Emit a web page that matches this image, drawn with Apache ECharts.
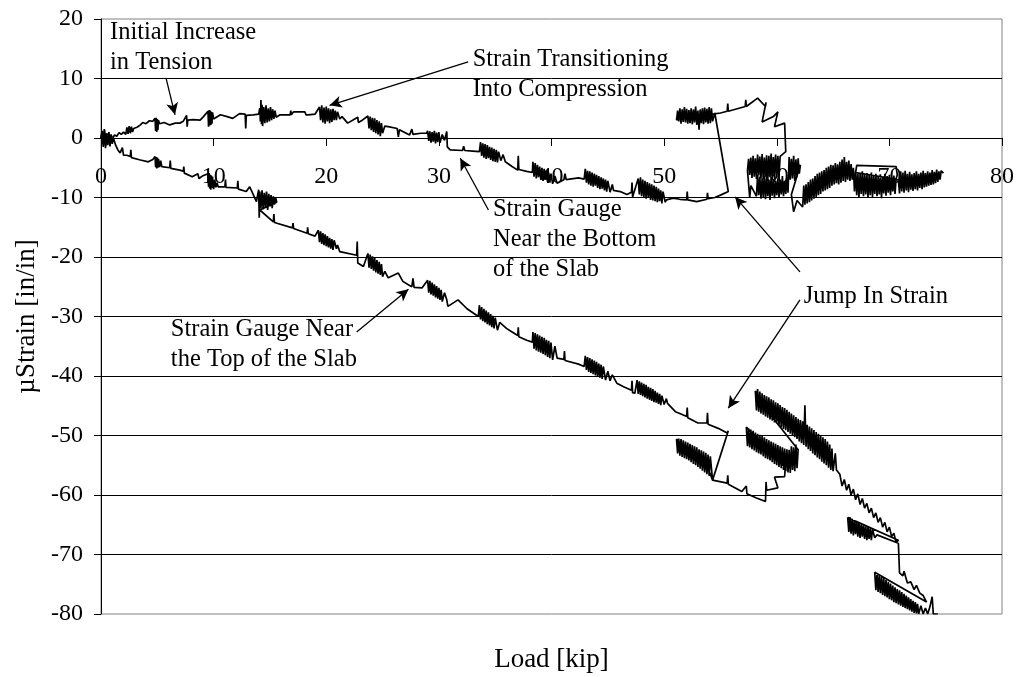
<!DOCTYPE html>
<html>
<head>
<meta charset="utf-8">
<script src="https://cdn.jsdelivr.net/npm/echarts@6/dist/echarts.min.js"></script>
<style>
html,body{margin:0;padding:0;background:#fff;}
#c{width:1018px;height:677px;}
</style>
</head>
<body>
<div id="c"></div>
<script>
// ---------- DATA ----------
const xTicks = [0, 10, 20, 30, 40, 50, 60, 70, 80];
const yTicks = [-80, -70, -60, -50, -40, -30, -20, -10, 0, 10, 20];

// Strain gauge near the bottom of the slab  [load kip, microstrain]
const bottomGauge = [
[0,0],[0.1,1.2],[0.2,-1.0],[0.3,1.5],[0.4,-1.3],[0.5,0.8],[0.6,-0.9],[0.7,1.0],[0.8,-0.5],[0.9,0.6],[1.0,-0.2],[1.2,0.5],[1.4,0.3],[1.6,0.9],[1.8,0.6],[2.0,1.0],
[2.2,0.6],[2.3,1.8],[2.4,0.7],[2.5,2.0],[2.6,0.8],[2.7,1.9],[2.8,1.0],[2.9,1.6],
[3.2,1.8],[3.5,2.2],[3.7,2.6],[4.0,2.4],[4.3,2.9],[4.6,2.8],
[4.8,3.3],[4.85,1.2],[4.9,3.4],[4.95,1.0],[5.0,3.2],[5.05,1.3],[5.1,3.0],[5.2,2.4],
[5.6,2.6],[6.1,2.2],[6.6,2.5],[7.0,2.5],[7.3,2.8],[7.6,3.8],[7.65,1.9],[7.7,3.0],[8.2,3.1],[8.8,3.0],[9.1,3.6],
[9.5,4.5],[9.55,1.9],[9.6,4.7],[9.65,2.1],[9.7,4.6],[9.75,2.2],[9.8,4.4],[9.85,2.4],[9.9,4.3],[10.0,3.2],
[10.6,3.9],[11.2,3.6],[11.7,3.3],[12.3,4.1],[12.8,4.0],[12.85,1.6],[12.9,3.8],[13.5,3.9],[14.0,4.0],
[14.1,5.0],[14.15,2.8],[14.2,6.4],[14.25,2.3],[14.3,5.6],[14.35,2.0],[14.45,5.2],[14.55,2.5],[14.65,5.5],[14.75,2.6],[14.85,5.0],[14.95,2.8],[15.05,5.2],[15.15,3.0],[15.25,4.8],[15.35,3.2],[15.45,4.6],[15.55,3.5],
[15.9,3.9],[16.8,3.9],[16.85,4.6],[16.9,3.9],[17.1,4.4],[18.1,4.4],[18.2,3.9],[18.4,3.9],[19.0,4.0],
[19.4,5.2],[19.5,3.0],[19.6,5.5],[19.7,2.6],[19.8,5.1],[19.9,2.4],[20.0,5.3],[20.1,2.8],[20.2,5.0],[20.3,2.5],[20.4,4.8],[20.5,2.7],[20.6,4.9],[20.7,3.0],[20.8,4.6],[20.9,3.0],[21.0,4.4],[21.2,3.2],[21.4,3.6],
[21.9,2.5],[22.8,3.5],[22.85,2.6],[23.2,3.0],
[23.7,3.7],[23.8,1.6],[23.9,3.6],[24.0,1.3],[24.1,3.4],[24.2,1.0],[24.3,3.3],[24.4,0.8],[24.5,3.0],[24.6,0.6],[24.7,2.8],[24.8,0.3],[24.9,2.5],[25.0,0.8],[25.2,2.0],
[25.5,1.9],[26.3,1.6],[26.4,0.2],[26.5,1.4],[27.4,0.5],[27.6,1.5],[27.7,0.6],[28.4,0.8],[28.9,0.8],
[29.0,1.2],[29.1,-0.5],[29.2,1.1],[29.3,-0.8],[29.4,1.0],[29.5,-0.6],[29.6,1.2],[29.7,-0.9],[29.8,0.9],[29.9,-0.7],[30.0,1.0],[30.1,-0.8],[30.3,0.6],[30.5,-0.4],[30.7,1.1],[30.75,-1.5],
[31.0,-2.0],[32.1,-2.1],[32.2,-1.4],[32.3,-2.1],[33.0,-2.2],[33.6,-2.3],
[33.7,-0.7],[33.8,-3.0],[33.9,-0.9],[34.0,-3.3],[34.1,-1.0],[34.2,-3.5],[34.3,-1.2],[34.4,-3.4],[34.5,-1.5],[34.6,-3.7],[34.7,-1.6],[34.8,-3.9],[34.9,-1.8],[35.0,-4.0],[35.1,-2.0],[35.2,-4.1],[35.3,-2.3],[35.5,-3.8],[35.7,-2.8],[35.9,-4.0],
[36.0,-4.2],[36.5,-4.8],[37.0,-5.4],[37.05,-3.0],[37.1,-5.3],[37.8,-5.6],[38.3,-5.8],
[38.35,-4.0],[38.45,-6.5],[38.55,-4.2],[38.65,-6.8],[38.75,-4.5],[38.85,-6.6],[38.95,-4.8],[39.05,-7.0],[39.15,-5.0],[39.25,-7.2],[39.35,-5.2],[39.45,-7.0],[39.55,-5.5],[39.65,-7.4],[39.75,-5.8],[39.85,-7.5],[39.95,-6.0],[40.1,-7.7],[40.3,-6.4],[40.5,-7.6],
[40.6,-7.4],[41.1,-7.0],[41.2,-6.0],[41.3,-7.0],[42.4,-6.7],[42.9,-6.9],
[43.0,-5.2],[43.1,-7.5],[43.2,-5.5],[43.3,-7.8],[43.4,-5.6],[43.5,-8.0],[43.6,-5.8],[43.7,-8.2],[43.8,-6.0],[43.9,-8.0],[44.0,-6.2],[44.1,-8.4],[44.2,-6.4],[44.3,-8.6],[44.4,-6.6],[44.5,-8.5],[44.6,-6.8],[44.7,-8.8],[44.8,-7.0],[44.9,-9.0],[45.0,-7.2],[45.2,-9.1],[45.4,-7.8],[45.5,-8.8],
[46.1,-9.0],[46.7,-9.5],[47.1,-9.1],[47.15,-7.5],[47.2,-9.9],[47.3,-10.1],
[47.7,-6.8],[47.8,-9.5],[47.9,-6.6],[48.0,-9.8],[48.1,-7.0],[48.2,-10.0],[48.3,-7.2],[48.4,-10.2],[48.5,-7.4],[48.6,-10.0],[48.7,-7.6],[48.8,-10.4],[48.9,-7.8],[49.0,-10.5],[49.1,-8.0],[49.2,-10.6],[49.3,-8.2],[49.4,-10.8],[49.5,-8.5],[49.6,-10.6],[49.7,-8.8],[49.8,-11.0],[49.9,-9.0],[50.1,-10.8],[50.2,-10.4],
[50.8,-10.1],[51.4,-10.3],[52.0,-10.4],[52.05,-9.0],[52.1,-10.4],[52.9,-10.7],[53.8,-10.3],[53.85,-9.2],[53.9,-10.2],[54.5,-10.0],[55.0,-9.6],[55.7,-9.0],
[54.5,4.2],
[54.3,2.8],[54.2,5.0],[54.1,2.5],[54.0,5.2],[53.9,2.4],[53.8,4.9],[53.7,2.6],[53.6,5.1],[53.5,2.3],[53.4,5.0],[53.3,2.5],[53.2,4.8],[53.1,1.4],[53.0,4.6],[52.9,2.2],[52.8,5.3],[52.7,2.6],[52.6,4.8],[52.5,2.3],[52.4,5.0],[52.3,2.5],[52.2,4.7],[52.1,2.4],[52.0,4.9],[51.9,2.6],[51.8,5.2],[51.7,2.7],[51.6,4.8],[51.5,2.4],[51.4,5.0],[51.3,2.8],[51.2,4.6],[51.1,3.0],
[51.5,3.5],[52.5,3.8],[53.5,3.6],[54.3,4.0],
[55.0,4.2],[55.6,4.5],[55.65,5.8],[55.7,4.5],[57.2,5.3],[57.25,6.4],[57.3,5.3],[58.3,6.7],[59.0,5.3],[59.05,6.0],[58.7,2.7],[59.7,3.6],[60.1,4.4],[59.8,1.9],[60.7,2.5],[60.8,-2.3],[60.3,-3.1],
[60.2,-6.5],[60.1,-3.0],[60.0,-6.8],[59.9,-2.8],[59.8,-6.4],[59.7,-3.2],[59.6,-7.0],[59.5,-2.6],[59.4,-6.6],[59.3,-3.0],[59.2,-7.2],[59.1,-2.9],[59.0,-6.5],[58.9,-3.3],[58.8,-7.0],[58.7,-2.7],[58.6,-6.8],[58.5,-3.1],[58.4,-6.3],[58.3,-2.8],[58.2,-6.9],[58.1,-3.4],[58.0,-6.5],[57.9,-3.0],[57.8,-6.7],[57.7,-3.3],[57.6,-6.2],[57.5,-3.5],[57.4,-5.5],
[57.6,-10.0],[57.7,-8.0],[58.2,-9.8],[58.3,-6.2],[58.4,-9.6],[58.5,-6.5],[58.6,-10.2],[58.7,-6.8],[58.8,-9.9],[58.9,-6.3],[59.0,-10.3],[59.1,-6.6],[59.2,-9.8],[59.3,-7.0],[59.4,-10.4],[59.5,-6.5],[59.6,-9.7],[59.7,-6.9],[59.8,-10.1],[59.9,-7.2],[60.0,-9.6],[60.1,-6.8],[60.2,-10.0],[60.3,-7.0],[60.4,-9.5],[60.5,-6.4],[60.6,-9.8],[60.7,-7.2],[60.8,-9.4],[60.9,-6.6],[61.0,-9.2],
[61.1,-3.2],[61.2,-7.0],[61.3,-3.5],[61.4,-6.8],[61.5,-3.0],[61.6,-7.2],[61.7,-3.6],[61.8,-6.6],[61.9,-3.4],[62.0,-6.0],[62.1,-4.5],
[61.3,-9.5],[61.5,-12.4],[61.8,-10.5],
[62.3,-11.6],[62.4,-8.0],[62.5,-11.2],[62.6,-7.8],[62.7,-11.0],[62.8,-7.4],[62.9,-10.8],[63.0,-7.0],[63.1,-10.5],[63.2,-6.8],[63.3,-10.2],[63.4,-6.4],[63.5,-10.0],[63.6,-6.0],[63.7,-9.6],[63.8,-5.8],[63.9,-9.4],[64.0,-5.6],[64.1,-9.0],[64.2,-5.4],[64.3,-8.8],[64.4,-5.0],[64.5,-8.6],[64.6,-4.8],[64.7,-8.4],[64.8,-4.5],[64.9,-8.0],[65.0,-4.6],[65.1,-7.8],[65.2,-4.2],[65.3,-7.6],[65.4,-4.4],[65.5,-7.8],[65.6,-4.0],[65.7,-7.5],[65.8,-3.6],[65.9,-7.2],[66.0,-3.2],[66.1,-7.4],[66.2,-4.0],[66.3,-7.0],[66.4,-3.8],[66.5,-7.2],[66.6,-4.4],[66.7,-7.0],
[66.8,-5.0],[66.9,-9.0],[67.0,-5.5],[67.1,-9.6],[67.2,-5.8],[67.3,-10.0],[67.4,-6.0],[67.5,-9.4],[67.6,-5.6],[67.7,-9.8],[67.8,-6.2],[67.9,-9.5],[68.0,-5.9],[68.1,-10.0],[68.2,-6.3],[68.3,-9.6],[68.4,-5.8],[68.5,-9.9],[68.6,-6.4],[68.7,-9.4],[68.8,-6.0],[68.9,-9.8],[69.0,-6.5],[69.1,-9.5],[69.2,-6.1],[69.3,-10.1],[69.4,-6.6],[69.5,-9.3],[69.6,-6.0],[69.7,-9.7],[69.8,-6.4],[69.9,-9.2],[70.0,-6.2],[70.1,-9.6],[70.2,-6.6],[70.3,-9.0],[70.4,-6.3],[70.5,-9.4],[70.6,-6.8],
[70.7,-6.2],[70.6,-4.8],[67.1,-4.6],[67.0,-5.8],[70.8,-7.0],
[70.9,-9.3],[71.0,-5.6],[71.1,-9.0],[71.2,-5.8],[71.3,-9.2],[71.4,-5.5],[71.5,-8.8],[71.6,-6.0],[71.7,-9.1],[71.8,-5.7],[71.9,-8.7],[72.0,-6.1],[72.1,-8.9],[72.2,-5.9],[72.3,-8.6],[72.4,-5.6],[72.5,-8.8],[72.6,-6.0],[72.7,-8.4],[72.8,-5.8],[72.9,-8.6],[73.0,-5.5],[73.1,-8.3],[73.2,-5.9],[73.3,-8.2],[73.4,-5.6],[73.5,-8.0],[73.6,-5.8],[73.7,-7.9],[73.8,-5.4],[73.9,-7.8],[74.0,-5.7],[74.1,-7.6],[74.2,-5.3],[74.3,-7.4],[74.4,-5.6],[74.5,-7.0],[74.6,-5.5],[74.8,-5.9]
];

// Strain gauge near the top of the slab  [load kip, microstrain]
const topGauge = [
[0,0],[0.1,1.0],[0.2,-1.5],[0.3,1.3],[0.4,-1.7],[0.5,0.8],[0.6,-1.2],[0.7,0.9],[0.8,-1.4],[0.9,0.4],[1.0,-1.0],[1.1,0.0],[1.3,-1.2],[1.5,-2.0],[1.7,-2.5],[1.9,-1.6],[2.0,-2.9],[2.3,-2.9],[2.6,-3.1],[2.65,-2.0],[2.7,-3.3],[3.5,-3.7],[4.2,-4.0],[4.6,-3.6],
[4.8,-3.1],[4.85,-4.9],[4.9,-3.2],[4.95,-5.1],[5.0,-3.3],[5.05,-5.0],[5.1,-3.5],[5.2,-4.9],[5.3,-3.8],[5.4,-4.8],
[5.5,-4.8],[6.1,-5.0],[6.15,-3.8],[6.2,-5.1],[7.0,-5.4],[7.3,-5.6],[7.35,-4.8],[7.4,-5.9],[8.1,-6.5],[8.6,-6.0],[8.7,-6.8],[9.0,-6.4],
[9.5,-6.0],[9.55,-8.2],[9.6,-5.9],[9.65,-8.5],[9.7,-6.2],[9.75,-8.7],[9.8,-6.3],[9.85,-8.4],[9.9,-6.5],[10.0,-8.6],[10.1,-7.0],[10.2,-8.3],[10.3,-7.5],
[10.4,-8.2],[11.0,-8.2],[11.05,-7.0],[11.1,-8.3],[12.1,-8.4],[12.15,-7.2],[12.2,-8.6],[12.9,-9.0],[13.2,-8.2],[13.4,-9.0],[13.8,-10.7],
[14.0,-8.7],[14.05,-13.4],[14.1,-9.0],[14.2,-11.8],[14.3,-8.8],[14.4,-12.0],[14.5,-9.2],[14.6,-11.6],[14.7,-9.0],[14.8,-12.1],[14.9,-9.4],[15.0,-11.5],[15.1,-9.6],[15.2,-11.8],[15.3,-9.8],[15.4,-11.2],[15.5,-10.0],[15.6,-10.8],
[14.1,-12.1],[15.3,-14.1],[15.35,-12.8],[15.4,-14.2],[17.0,-15.1],[17.05,-14.3],[17.1,-15.2],[18.3,-16.0],[18.35,-15.0],[18.4,-16.1],[19.0,-16.5],
[19.3,-15.5],[19.4,-17.5],[19.5,-15.7],[19.6,-17.8],[19.7,-16.0],[19.8,-18.0],[19.9,-16.2],[20.0,-18.2],[20.1,-16.5],[20.2,-18.4],[20.3,-16.8],[20.4,-18.6],[20.5,-17.0],[20.6,-18.8],[20.7,-17.2],[20.9,-18.6],[21.0,-18.0],
[21.2,-19.1],[22.7,-19.7],[22.75,-17.4],[22.8,-21.0],[23.3,-21.6],
[23.7,-19.4],[23.8,-21.8],[23.9,-19.6],[24.0,-22.0],[24.1,-19.9],[24.2,-22.3],[24.3,-20.2],[24.4,-22.6],[24.5,-20.5],[24.6,-22.8],[24.7,-20.8],[24.8,-23.0],[24.9,-21.2],[25.0,-23.3],[25.2,-22.4],
[25.5,-23.5],[26.4,-22.7],[26.8,-24.1],[27.4,-24.8],[27.6,-25.0],[27.7,-23.6],[27.8,-25.1],[28.5,-25.2],
[29.0,-23.9],[29.1,-26.0],[29.2,-24.0],[29.3,-26.3],[29.4,-24.3],[29.5,-26.5],[29.6,-24.6],[29.7,-26.8],[29.8,-24.9],[29.9,-27.0],[30.0,-25.2],[30.1,-27.2],[30.2,-25.5],[30.3,-27.5],[30.5,-26.0],[30.7,-27.2],
[30.8,-28.3],[31.7,-27.2],[32.5,-28.7],[33.5,-30.0],
[33.6,-28.1],[33.7,-30.5],[33.8,-28.4],[33.9,-30.8],[34.0,-28.7],[34.1,-31.0],[34.2,-29.0],[34.3,-31.3],[34.4,-29.3],[34.5,-31.5],[34.6,-29.6],[34.7,-31.8],[34.8,-29.9],[34.9,-32.0],[35.0,-30.2],[35.2,-32.3],[35.4,-31.0],
[36.0,-32.0],[36.5,-32.6],[37.0,-33.2],[37.05,-31.8],[37.1,-33.4],[37.8,-34.0],[38.3,-34.3],
[38.35,-32.6],[38.45,-35.4],[38.55,-32.8],[38.65,-35.7],[38.75,-33.0],[38.85,-35.9],[38.95,-33.2],[39.05,-36.1],[39.15,-33.4],[39.25,-36.3],[39.35,-33.6],[39.45,-36.5],[39.55,-33.9],[39.65,-36.8],[39.75,-34.1],[39.85,-37.0],[39.95,-34.4],[40.1,-37.3],[40.3,-35.0],[40.5,-37.0],
[40.6,-36.8],[41.1,-37.2],[41.15,-35.8],[41.2,-37.4],[42.4,-38.0],[42.9,-38.4],
[43.0,-36.6],[43.1,-39.0],[43.2,-36.8],[43.3,-39.3],[43.4,-37.0],[43.5,-39.5],[43.6,-37.2],[43.7,-39.7],[43.8,-37.4],[43.9,-39.9],[44.0,-37.6],[44.1,-40.1],[44.2,-37.9],[44.3,-40.3],[44.4,-38.1],[44.5,-40.5],[44.6,-38.4],[44.8,-40.7],[45.0,-39.2],[45.2,-40.8],[45.4,-39.8],
[45.8,-41.2],[46.4,-41.8],[47.1,-42.4],[47.15,-40.8],[47.2,-42.8],[47.4,-42.9],
[47.6,-40.7],[47.7,-43.0],[47.8,-40.9],[47.9,-43.2],[48.0,-41.1],[48.1,-43.4],[48.2,-41.3],[48.3,-43.6],[48.4,-41.5],[48.5,-43.8],[48.6,-41.8],[48.7,-44.0],[48.8,-42.0],[48.9,-44.2],[49.0,-42.2],[49.1,-44.4],[49.2,-42.5],[49.3,-44.5],[49.4,-42.8],[49.5,-44.7],[49.6,-43.0],[49.7,-44.9],[49.8,-43.3],[50.0,-44.8],[50.2,-43.8],
[50.3,-44.6],[51.0,-46.0],[51.5,-46.4],[52.0,-46.8],[52.05,-45.3],[52.1,-47.0],[53.0,-47.9],[53.8,-47.9],[53.85,-46.2],[53.9,-48.1],[54.8,-48.8],[55.6,-49.6],[55.7,-49.2],
[54.3,-57.5],
[54.1,-53.5],[54.0,-56.8],[53.9,-53.2],[53.8,-56.5],[53.7,-52.9],[53.6,-56.2],[53.5,-52.7],[53.4,-55.9],[53.3,-52.5],[53.2,-55.6],[53.1,-52.3],[53.0,-55.3],[52.9,-52.0],[52.8,-55.0],[52.7,-51.8],[52.6,-54.8],[52.5,-51.6],[52.4,-54.5],[52.3,-51.4],[52.2,-54.2],[52.1,-51.2],[52.0,-54.0],[51.9,-51.0],[51.8,-53.8],[51.7,-50.8],[51.6,-53.6],[51.5,-50.6],[51.4,-53.4],[51.3,-50.5],[51.2,-53.0],[51.1,-50.6],
[52.5,-53.5],[54.0,-56.0],[54.3,-57.5],
[55.6,-58.0],[55.65,-56.7],[55.7,-58.2],[56.9,-59.4],[57.3,-58.5],[57.35,-59.8],[58.2,-60.5],[59.0,-61.1],[59.05,-57.8],[59.1,-59.2],[60.1,-58.8],[59.8,-57.0],[60.7,-56.9],[60.75,-55.4],
[57.3,-48.6],[57.4,-51.8],[57.5,-48.8],[57.6,-52.0],[57.7,-49.0],[57.8,-52.3],[57.9,-49.2],[58.0,-52.5],[58.1,-49.5],[58.2,-52.8],[58.3,-49.7],[58.4,-53.0],[58.5,-49.9],[58.6,-53.2],[58.7,-50.1],[58.8,-53.5],[58.9,-50.3],[59.0,-53.8],[59.1,-50.6],[59.2,-54.0],[59.3,-50.8],[59.4,-54.2],[59.5,-51.0],[59.6,-54.5],[59.7,-51.2],[59.8,-54.8],[59.9,-51.4],[60.0,-55.0],[60.1,-51.6],[60.2,-55.3],[60.3,-51.8],[60.4,-55.5],[60.5,-52.0],[60.6,-55.8],[60.7,-52.2],[60.8,-56.0],[60.9,-52.3],[61.0,-56.2],[61.1,-52.4],[61.2,-56.3],[61.3,-51.8],[61.4,-55.8],[61.5,-52.0],[61.6,-56.0],[61.7,-51.5],[61.8,-55.5],[61.9,-52.4],
[59.1,-45.7],[58.1,-42.5],
[58.2,-45.8],[58.3,-42.2],[58.4,-46.0],[58.5,-42.6],[58.6,-46.3],[58.7,-42.9],[58.8,-46.5],[58.9,-43.2],[59.0,-46.8],[59.1,-43.4],[59.2,-47.0],[59.3,-43.6],[59.4,-47.3],[59.5,-43.9],[59.6,-47.5],[59.7,-44.1],[59.8,-47.8],[59.9,-44.4],[60.0,-48.0],[60.1,-44.6],[60.2,-48.3],[60.3,-44.9],[60.4,-48.6],[60.5,-45.2],[60.6,-48.9],[60.7,-45.4],[60.8,-49.1],[60.9,-45.7],[61.0,-49.4],[61.1,-46.0],[61.2,-49.7],[61.3,-46.3],[61.4,-50.0],[61.5,-46.6],[61.6,-50.3],[61.7,-46.9],[61.8,-50.6],[61.9,-47.2],[62.0,-51.0],[62.1,-47.4],[62.2,-51.3],[62.3,-47.6],[62.4,-51.6],[62.5,-44.9],[62.6,-51.9],[62.7,-48.2],[62.8,-52.3],[62.9,-48.5],[63.0,-52.6],[63.1,-48.8],[63.2,-53.0],[63.3,-49.1],[63.4,-53.3],[63.5,-49.4],[63.6,-53.7],[63.7,-49.7],[63.8,-54.0],[63.9,-50.0],[64.0,-54.4],[64.1,-50.3],[64.2,-54.7],[64.3,-50.6],[64.4,-55.0],[64.5,-51.0],[64.6,-55.4],[64.7,-51.5],[64.8,-55.8],[64.9,-52.2],[65.0,-56.0],[65.2,-53.0],[65.3,-55.8],
[65.6,-56.5],[65.8,-58.5],[66.0,-57.4],[66.2,-59.2],[66.4,-58.2],[66.6,-60.0],[66.8,-59.0],[67.0,-60.8],[67.2,-59.8],[67.4,-61.6],[67.6,-60.6],[67.8,-62.2],[68.0,-61.4],[68.2,-63.0],[68.4,-62.2],[68.6,-63.8],[68.8,-63.0],[69.0,-64.6],[69.2,-63.8],[69.4,-65.4],[69.6,-64.6],[69.8,-66.2],[70.0,-65.4],[70.2,-67.0],[70.4,-66.4],[70.6,-68.0],[70.8,-67.6],
[66.3,-63.8],[66.4,-66.2],[66.5,-63.7],[66.6,-66.5],[66.7,-64.0],[66.8,-66.8],[66.9,-64.2],[67.0,-66.6],[67.1,-64.4],[67.2,-67.0],[67.3,-64.6],[67.4,-67.2],[67.5,-64.8],[67.6,-67.0],[67.7,-65.0],[67.8,-67.4],[67.9,-65.2],[68.0,-67.6],[68.1,-65.4],[68.2,-67.4],[68.3,-65.6],[68.4,-67.6],[68.5,-65.8],[68.7,-67.2],[68.9,-66.7],
[70.8,-68.1],[70.9,-73.1],[71.2,-73.6],[71.3,-72.8],[71.6,-74.8],[71.9,-74.6],[72.2,-75.9],[72.4,-75.2],[72.7,-76.5],[73.0,-76.9],[73.3,-78.0],
[68.7,-73.0],[68.8,-76.0],[68.9,-73.2],[69.0,-76.3],[69.1,-73.5],[69.2,-76.5],[69.3,-73.8],[69.4,-76.8],[69.5,-74.0],[69.6,-77.0],[69.7,-74.3],[69.8,-77.2],[69.9,-74.6],[70.0,-77.5],[70.1,-74.9],[70.2,-77.7],[70.3,-75.2],[70.4,-78.0],[70.5,-75.5],[70.6,-78.2],[70.7,-75.8],[70.8,-78.4],[70.9,-76.0],[71.0,-78.6],[71.1,-76.3],[71.2,-78.8],[71.3,-76.6],[71.4,-79.0],[71.5,-76.9],[71.6,-79.2],[71.7,-77.2],[71.8,-79.4],[71.9,-77.5],[72.0,-79.6],[72.1,-77.8],[72.2,-79.8],[72.3,-78.0],[72.4,-79.9],[72.5,-78.3],[72.6,-80.0],[72.8,-78.6],[73.0,-80.0],[73.2,-79.0],[73.4,-80.0],[73.6,-78.8],[73.8,-77.1],[73.9,-80.0],[74.3,-80.0]
];

// Annotation texts: [text, x, y (top-left of text block, data units)]
const noteTexts = [
  ['Initial Increase\nin Tension', 0.8, 20.3],
  ['Strain Transitioning\nInto Compression', 33.0, 15.7],
  ['Strain Gauge\nNear the Bottom\nof the Slab', 34.8, -9.5],
  ['Strain Gauge Near\nthe Top of the Slab', 6.2, -29.7],
  ['Jump In Strain', 62.4, -24.2]
];
// Arrows: [fromX, fromY, toX, toY] (data units, head at "to")
const noteArrows = [
  [5.77, 10.1, 6.57, 3.9],
  [32.6, 12.8, 20.3, 5.5],
  [34.4, -12.1, 31.9, -3.4],
  [22.7, -32.6, 27.3, -25.4],
  [62.06, -22.5, 56.3, -9.9],
  [62.06, -27.2, 55.7, -45.4]
];

// ---------- CHART ----------
const FONT = 'Liberation Serif';
const chart = echarts.init(document.getElementById('c'), null, {renderer: 'canvas'});

const option = {
  animation: false,
  backgroundColor: '#ffffff',
  grid: {left: 101, right: 16, top: 19, bottom: 63, show: true, borderColor: '#808080', borderWidth: 1, backgroundColor: 'transparent'},
  xAxis: {
    type: 'value', min: xTicks[0], max: xTicks[xTicks.length - 1], interval: 10,
    axisLine: {onZero: false, lineStyle: {color: '#000', width: 1}},
    axisTick: {show: true, inside: false, length: 8, lineStyle: {color: '#000'}},
    axisLabel: {color: '#000', fontFamily: FONT, fontSize: 24, margin: 27},
    splitLine: {show: false}
  },
  yAxis: {
    type: 'value', min: yTicks[0], max: yTicks[yTicks.length - 1], interval: 10,
    name: 'µStrain [in/in]', nameLocation: 'middle', nameGap: 58, nameRotate: 90,
    nameTextStyle: {color: '#000', fontFamily: FONT, fontSize: 27},
    axisLine: {show: true, onZero: false, lineStyle: {color: '#000', width: 1}},
    axisTick: {show: true, inside: false, length: 7, lineStyle: {color: '#000'}},
    axisLabel: {color: '#000', fontFamily: FONT, fontSize: 24, margin: 18},
    splitLine: {show: true, showMinLine: false, showMaxLine: false, lineStyle: {color: '#000', width: 1}}
  },
  series: [
    {
      name: 'Near the Bottom of the Slab', type: 'line', data: bottomGauge,
      showSymbol: false, symbol: 'none', lineStyle: {color: '#000', width: 1.7, join: 'bevel'}, z: 3,
      markLine: {
        silent: true, animation: false,
        symbol: ['none', 'arrow'], symbolSize: [9, 12],
        lineStyle: {color: '#000', width: 1.3, type: 'solid'},
        label: {show: false},
        data: noteArrows.map(a => [{coord: [a[0], a[1]]}, {coord: [a[2], a[3]]}])
      }
    },
    {
      name: 'Near the Top of the Slab', type: 'line', data: topGauge,
      showSymbol: false, symbol: 'none', lineStyle: {color: '#000', width: 1.7, join: 'bevel'}, z: 3
    }
  ]
};
chart.setOption(option);

// move the x axis up so that it crosses the y axis at zero
const yZeroPx = chart.convertToPixel({yAxisIndex: 0}, 0);
const yMinPx = chart.convertToPixel({yAxisIndex: 0}, yTicks[0]);
chart.setOption({xAxis: {offset: yZeroPx - yMinPx}});

const graphics = noteTexts.map(n => {
  const p = chart.convertToPixel({gridIndex: 0}, [n[1], n[2]]);
  return {
    type: 'text', x: p[0], y: p[1], z: 10,
    style: {text: n[0], fontFamily: FONT, fontSize: 24.5, fill: '#000', align: 'left', verticalAlign: 'top', lineHeight: 30}
  };
});
const gLeft = chart.convertToPixel({gridIndex: 0}, [0, 0]);
const gRight = chart.convertToPixel({gridIndex: 0}, [80, 0]);
graphics.push({
  type: 'text', x: (gLeft[0] + gRight[0]) / 2, y: 660, z: 10,
  style: {text: 'Load [kip]', fontFamily: FONT, fontSize: 27, fill: '#000', align: 'center', verticalAlign: 'middle'}
});
chart.setOption({graphic: graphics});
</script>
</body>
</html>
